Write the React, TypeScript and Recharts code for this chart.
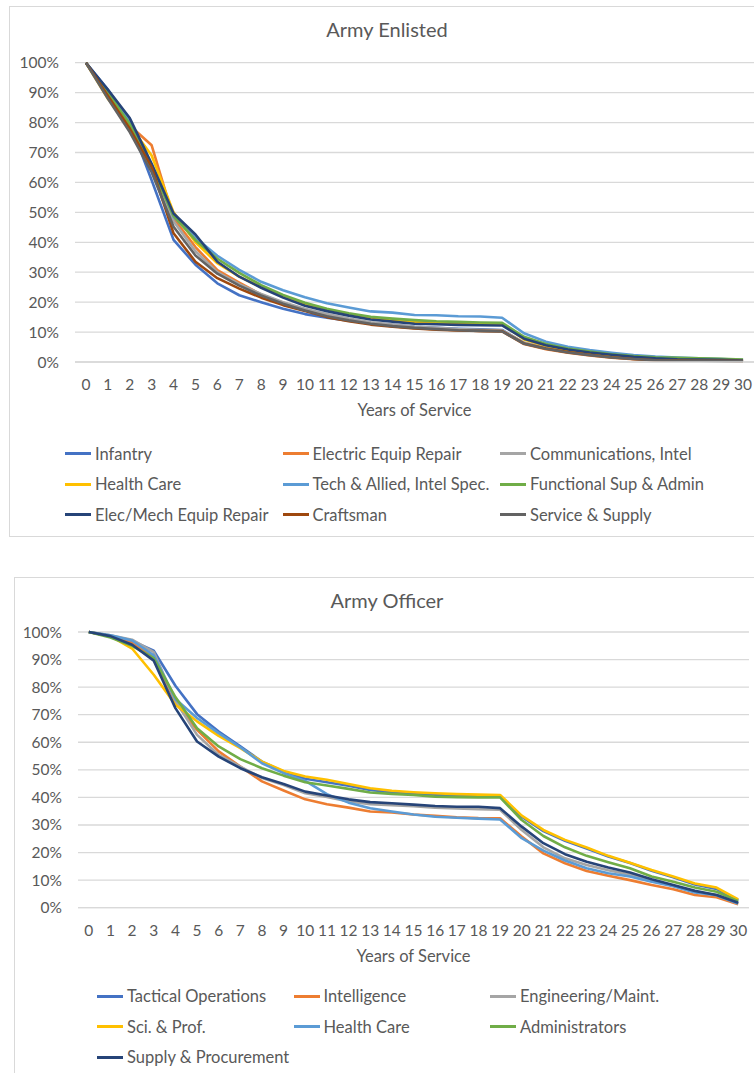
import React from 'react';
import { LineChart, Line, XAxis, YAxis, CartesianGrid } from 'recharts';

// ---- shared categories and ticks ----
const years = [0, 1, 2, 3, 4, 5, 6, 7, 8, 9, 10, 11, 12, 13, 14, 15, 16, 17, 18, 19, 20, 21, 22, 23, 24, 25, 26, 27, 28, 29, 30];
const percentTicks = [0, 10, 20, 30, 40, 50, 60, 70, 80, 90, 100];

// ---- Army Enlisted: share still serving (%) by years of service ----
const infantry = [100, 91, 80, 60.7, 40.8, 32.5, 26.3, 22.3, 20, 17.8, 16, 14.8, 13.8, 13, 12.4, 11.8, 11.4, 11.1, 10.9, 10.7, 6.3, 4.6, 3.4, 2.6, 1.8, 1.2, 0.8, 0.6, 0.5, 0.4, 0.3];
const electricEquipRepair = [100, 89, 79, 72.4, 48, 38.4, 30.7, 26.5, 22.5, 19.8, 17.5, 15.5, 14, 12.8, 12, 11.3, 11, 10.6, 10.4, 10.2, 6, 4.3, 3.1, 2.2, 1.4, 0.9, 0.6, 0.5, 0.4, 0.4, 0.3];
const communicationsIntel = [100, 89, 78.5, 64, 47, 37, 30, 26, 22.7, 20, 17.8, 16, 14.5, 13.3, 12.5, 11.8, 11.4, 11, 10.8, 10.6, 6.5, 4.8, 3.6, 2.7, 1.9, 1.3, 0.9, 0.7, 0.6, 0.5, 0.4];
const healthCareEnlisted = [100, 88, 79, 69, 50, 40, 33, 28.5, 25, 22, 19.5, 17.5, 16, 14.7, 14, 13.5, 13.1, 12.9, 12.8, 12.7, 7.5, 5.4, 3.9, 2.9, 2, 1.4, 1, 0.8, 0.7, 0.6, 0.5];
const techAllied = [100, 90, 80.5, 66, 48.5, 41.5, 35.5, 30.8, 26.8, 24, 21.6, 19.6, 18.2, 16.9, 16.5, 15.7, 15.6, 15.3, 15.2, 14.8, 9.6, 6.8, 5.1, 4, 3.1, 2.3, 1.8, 1.5, 1.2, 1, 0.7];
const functionalSupAdmin = [100, 90, 79.5, 65, 48.8, 40.7, 34.5, 29.8, 25.7, 22.4, 19.8, 17.8, 16.3, 15.1, 14.5, 14, 13.6, 13.4, 13.2, 13.1, 8.4, 6, 4.5, 3.5, 2.6, 2, 1.6, 1.4, 1.2, 1.1, 0.8];
const elecMechEquipRepair = [100, 91, 81.5, 66.2, 49.6, 42.6, 33.5, 28.5, 24.8, 21.5, 18.8, 17, 15.5, 14.2, 13.5, 12.8, 12.6, 12.4, 12.3, 12.2, 7.8, 5.6, 4.2, 3.2, 2.4, 1.7, 1.2, 0.9, 0.8, 0.7, 0.5];
const craftsman = [100, 89, 78, 65.1, 43, 33.5, 28, 24.5, 21.5, 19, 17, 15, 13.6, 12.5, 11.8, 11.2, 10.8, 10.5, 10.4, 10.3, 6.2, 4.5, 3.3, 2.4, 1.6, 1, 0.6, 0.5, 0.4, 0.4, 0.3];
const serviceSupply = [100, 88, 76.8, 63.4, 45.2, 35.6, 29.5, 25.5, 22.2, 19.5, 17.2, 15.3, 13.9, 12.8, 12, 11.4, 11, 10.6, 10.4, 10.2, 6.1, 4.4, 3.2, 2.3, 1.5, 1, 0.6, 0.4, 0.4, 0.3, 0.3];

// ---- Army Officer: share still serving (%) by years of service ----
const tacticalOperations = [100, 98.5, 96.8, 93.2, 80.5, 70.2, 63.9, 58.5, 53, 49.3, 46.8, 45.5, 44.2, 42.7, 41.9, 41.4, 41, 40.7, 40.5, 40.3, 33, 27.8, 24.3, 21.5, 18.6, 16.2, 13.4, 11, 8.4, 6.8, 2.7];
const intelligence = [100, 98.5, 96, 91, 74.5, 64.5, 56.7, 51.2, 45.8, 42.5, 39.3, 37.5, 36.3, 34.9, 34.5, 33.8, 33.3, 32.8, 32.5, 32.4, 25.8, 19.7, 16.1, 13.3, 11.6, 10, 8.2, 6.7, 4.6, 3.8, 1.2];
const engineeringMaint = [100, 98.8, 97.2, 92.7, 75, 62.7, 55.4, 51.2, 47, 44.5, 41.5, 40.2, 38.5, 37.5, 37.2, 36.8, 36.3, 36, 35.7, 35.5, 28.2, 21.9, 17.9, 15.5, 13.6, 12, 9.8, 8, 5.8, 4.6, 1.6];
const sciProf = [100, 98.5, 94, 84.5, 73.6, 67.6, 62.3, 57.9, 53, 49.6, 47.6, 46.4, 44.9, 43.3, 42.4, 41.9, 41.5, 41.2, 41, 40.9, 33.4, 28.2, 24.6, 21.8, 18.8, 16.3, 13.7, 11.3, 8.8, 7.3, 3];
const healthCareOfficer = [100, 98.8, 96.9, 91.5, 75.7, 68.8, 63.3, 58.2, 52.4, 48.8, 46, 41.2, 38.1, 36.1, 34.9, 33.8, 33, 32.6, 32.3, 32, 25.2, 20.7, 17.1, 14.3, 12.5, 11.3, 9.4, 7.8, 5.5, 4.5, 1.5];
const administrators = [100, 98, 95, 90.5, 76.4, 65.1, 58.5, 53.9, 50.6, 47.9, 45.5, 44.3, 43.1, 41.8, 41.3, 40.9, 40.3, 40.1, 40, 40, 31.8, 26, 21.9, 18.8, 16.5, 14.3, 11.3, 9.4, 7.3, 5.8, 2.4];
const supplyProcurement = [100, 98.5, 95.4, 89.6, 72.4, 60.3, 54.8, 50.6, 47.3, 44.9, 42.1, 40.7, 39.3, 38.3, 37.9, 37.4, 36.9, 36.6, 36.6, 36.1, 29.4, 23.4, 19.4, 16.7, 14.6, 12.8, 10.3, 8.2, 6.1, 4.6, 1.8];

// ---- series definitions ----
type Series = { key: string; name: string; color: string; values: number[] };

const enlistedSeries: Series[] = [
  { key: 's0', name: 'Infantry', color: '#4472C4', values: infantry },
  { key: 's1', name: 'Electric Equip Repair', color: '#ED7D31', values: electricEquipRepair },
  { key: 's2', name: 'Communications, Intel', color: '#A5A5A5', values: communicationsIntel },
  { key: 's3', name: 'Health Care', color: '#FFC000', values: healthCareEnlisted },
  { key: 's4', name: 'Tech & Allied, Intel Spec.', color: '#5B9BD5', values: techAllied },
  { key: 's5', name: 'Functional Sup & Admin', color: '#70AD47', values: functionalSupAdmin },
  { key: 's6', name: 'Elec/Mech Equip Repair', color: '#264478', values: elecMechEquipRepair },
  { key: 's7', name: 'Craftsman', color: '#9E480E', values: craftsman },
  { key: 's8', name: 'Service & Supply', color: '#636363', values: serviceSupply },
];

const officerSeries: Series[] = [
  { key: 's0', name: 'Tactical Operations', color: '#4472C4', values: tacticalOperations },
  { key: 's1', name: 'Intelligence', color: '#ED7D31', values: intelligence },
  { key: 's2', name: 'Engineering/Maint.', color: '#A5A5A5', values: engineeringMaint },
  { key: 's3', name: 'Sci. & Prof.', color: '#FFC000', values: sciProf },
  { key: 's4', name: 'Health Care', color: '#5B9BD5', values: healthCareOfficer },
  { key: 's5', name: 'Administrators', color: '#70AD47', values: administrators },
  { key: 's6', name: 'Supply & Procurement', color: '#264478', values: supplyProcurement },
];

const FONT = 'Lato, "Open Sans", sans-serif';
const TEXT = '#595959';
const GRID = '#D9D9D9';

function buildRows(series: Series[]) {
  return years.map((y, i) => {
    const row: Record<string, number> = { year: y };
    series.forEach((s) => {
      row[s.key] = s.values[i];
    });
    return row;
  });
}

type PanelProps = {
  title: string;
  series: Series[];
  boxLeft: number;
  boxTop: number;
  boxHeight: number;
  titleY: number;
  chartTop: number;
  plotTop: number;
  plotBottom: number;
  yAxisWidth: number;
  rightMargin: number;
  categoryPad: number;
  legendLeft: number;
  legendTop: number;
  legendColWidth: number;
  legendRowHeight: number;
};

function Panel(p: PanelProps) {
  const data = buildRows(p.series);
  const xAxisHeight = 68;
  const marginTop = p.plotTop - p.chartTop;
  const chartHeight = p.plotBottom - p.chartTop + xAxisHeight;
  const rows: Series[][] = [];
  for (let i = 0; i < p.series.length; i += 3) rows.push(p.series.slice(i, i + 3));

  return (
    <>
      <div
        style={{
          position: 'absolute',
          left: p.boxLeft,
          top: p.boxTop,
          width: 800,
          height: p.boxHeight,
          border: `1px solid ${GRID}`,
          boxSizing: 'border-box',
          background: '#fff',
        }}
      />
      <div
        style={{
          position: 'absolute',
          left: 0,
          width: 774,
          top: p.titleY - 13,
          height: 26,
          lineHeight: '26px',
          textAlign: 'center',
          fontFamily: FONT,
          fontSize: 20,
          color: TEXT,
        }}
      >
        {p.title}
      </div>
      <div style={{ position: 'absolute', left: 0, top: p.chartTop }}>
        <LineChart
          width={754}
          height={chartHeight}
          data={data}
          margin={{ top: marginTop, right: p.rightMargin, bottom: 0, left: 0 }}
        >
          <CartesianGrid vertical={false} stroke={GRID} strokeWidth={1.3} />
          <XAxis
            dataKey="year"
            interval={0}
            height={xAxisHeight}
            padding={{ left: p.categoryPad, right: p.categoryPad }}
            tickLine={false}
            tickSize={0}
            tickMargin={17}
            axisLine={{ stroke: GRID, strokeWidth: 1.3 }}
            tick={{ fill: TEXT, fontSize: 15.5, fontFamily: FONT }}
            label={{
              value: 'Years of Service',
              position: 'insideBottom',
              offset: 14,
              fill: TEXT,
              fontSize: 16.5,
              fontFamily: FONT,
            }}
          />
          <YAxis
            width={p.yAxisWidth}
            domain={[0, 100]}
            ticks={percentTicks}
            tickFormatter={(v: number) => `${v}%`}
            tickLine={false}
            axisLine={false}
            tickSize={0}
            tickMargin={16}
            tick={{ fill: TEXT, fontSize: 15.5, fontFamily: FONT }}
          />
          {p.series.map((s) => (
            <Line
              key={s.key}
              dataKey={s.key}
              name={s.name}
              type="linear"
              stroke={s.color}
              strokeWidth={2.6}
              strokeLinejoin="round"
              dot={false}
              activeDot={false}
              isAnimationActive={false}
            />
          ))}
        </LineChart>
      </div>
      {rows.map((row, r) =>
        row.map((s, c) => (
          <div
            key={`${r}-${c}`}
            style={{
              position: 'absolute',
              left: p.legendLeft + c * p.legendColWidth,
              top: p.legendTop + r * p.legendRowHeight - 11,
              height: 22,
              display: 'flex',
              alignItems: 'center',
              fontFamily: FONT,
              fontSize: 16.5,
              color: TEXT,
              whiteSpace: 'nowrap',
            }}
          >
            <span style={{ display: 'inline-block', width: 26, height: 3, background: s.color, marginRight: 4 }} />
            <span>{s.name}</span>
          </div>
        ))
      )}
    </>
  );
}

export default function App() {
  return (
    <div
      style={{
        position: 'absolute',
        left: 0,
        top: 0,
        width: 754,
        height: 1073,
        overflow: 'hidden',
        background: '#fff',
      }}
    >
      <Panel
        title="Army Enlisted"
        series={enlistedSeries}
        boxLeft={9}
        boxTop={6}
        boxHeight={531}
        titleY={29}
        chartTop={0}
        plotTop={62.7}
        plotBottom={362}
        yAxisWidth={75}
        rightMargin={0}
        categoryPad={10.95}
        legendLeft={65}
        legendTop={453.5}
        legendColWidth={217.5}
        legendRowHeight={30.7}
      />
      <Panel
        title="Army Officer"
        series={officerSeries}
        boxLeft={14}
        boxTop={577}
        boxHeight={520}
        titleY={600}
        chartTop={577}
        plotTop={632}
        plotBottom={907.7}
        yAxisWidth={78}
        rightMargin={5}
        categoryPad={10.8}
        legendLeft={97}
        legendTop={996}
        legendColWidth={196.5}
        legendRowHeight={30.5}
      />
    </div>
  );
}
